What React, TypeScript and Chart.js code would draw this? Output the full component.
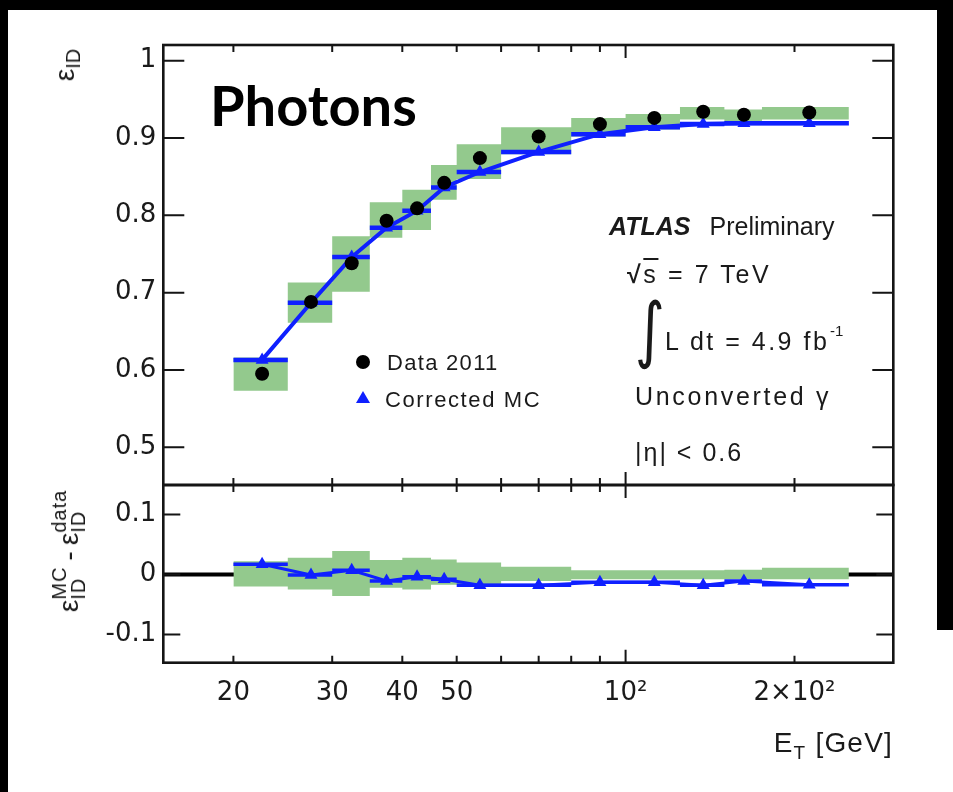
import React, { useEffect, useRef } from 'react';
import { Chart, registerables } from 'chart.js';

Chart.register(...registerables);

// ---------------- data ----------------
const binEdges = [20, 25, 30, 35, 40, 45, 50, 60, 80, 100, 125, 150, 175, 250];
const binCenters = [22.5, 27.5, 32.5, 37.5, 42.5, 47.5, 55, 70, 90, 112.5, 137.5, 162.5, 212.5];

const dataEff = [0.595, 0.688, 0.738, 0.793, 0.809, 0.842, 0.874, 0.902, 0.918, 0.926, 0.934, 0.930, 0.933];
const mcEff = [0.613, 0.687, 0.746, 0.784, 0.806, 0.836, 0.856, 0.882, 0.905, 0.914, 0.918, 0.919, 0.919];
const effBandUp = [0.616, 0.713, 0.773, 0.817, 0.833, 0.865, 0.892, 0.914, 0.926, 0.931, 0.940, 0.937, 0.940];
const effBandDown = [0.573, 0.661, 0.701, 0.771, 0.781, 0.820, 0.847, 0.879, 0.902, 0.911, 0.924, 0.921, 0.924];

const diffMC = [0.017, -0.001, 0.007, -0.011, -0.004, -0.008, -0.018, -0.018, -0.013, -0.013, -0.018, -0.011, -0.017];
const diffBandUp = [0.022, 0.028, 0.039, 0.024, 0.028, 0.025, 0.020, 0.013, 0.007, 0.007, 0.007, 0.008, 0.011];
const diffBandDown = [-0.020, -0.025, -0.036, -0.022, -0.025, -0.017, -0.017, -0.011, -0.008, -0.008, -0.008, -0.008, -0.008];

const xTickValues = [20, 30, 40, 50, 60, 70, 80, 90, 100, 200];
const xTickLabels = ['20', '30', '40', '50', '', '', '', '', '10²', '2×10²'];
const xMajorTicks = [100];
const yTicksTop = [0.5, 0.6, 0.7, 0.8, 0.9, 1];
const yTickLabelsTop = ['0.5', '0.6', '0.7', '0.8', '0.9', '1'];
const yTicksBottom = [-0.1, 0, 0.1];
const yTickLabelsBottom = ['-0.1', '0', '0.1'];

const X_MIN = 15;
const X_MAX = 300;
const TOP_MIN = 0.4512;
const TOP_MAX = 1.0203;
const BOT_MIN = -0.147;
const BOT_MAX = 0.149;

// ---------------- styles ----------------
const GREEN = 'rgb(147, 201, 141)';
const BLUE = 'rgb(15, 32, 255)';
const TICK_FONT = { family: '"DejaVu Sans", sans-serif', size: 26 };
const LIB = '"Liberation Sans", Arial, sans-serif';

function stepPoints(vals: number[]) {
  const pts: { x: number; y: number }[] = [];
  vals.forEach((v, i) => {
    pts.push({ x: binEdges[i], y: v });
    pts.push({ x: binEdges[i + 1], y: v });
  });
  return pts;
}

function barPoints(vals: number[]) {
  const pts: { x: number; y: number | null }[] = [];
  vals.forEach((v, i) => {
    pts.push({ x: binEdges[i], y: v });
    pts.push({ x: binEdges[i + 1], y: v });
    pts.push({ x: binEdges[i + 1], y: null });
  });
  return pts;
}

function centerPoints(vals: number[]) {
  return vals.map((v, i) => ({ x: binCenters[i], y: v }));
}

const framePlugin = {
  id: 'frame',
  afterDraw(chart: any, _args: any, opts: any) {
    const { ctx, chartArea: a, scales } = chart;
    ctx.save();
    ctx.strokeStyle = '#151515';
    ctx.lineWidth = 2;
    const xs = scales.x;
    xs.ticks.forEach((t: any) => {
      const px = xs.getPixelForValue(t.value);
      const len = xMajorTicks.includes(t.value) ? opts.xMajor : opts.xMinor;
      ctx.beginPath();
      ctx.moveTo(px, a.top);
      ctx.lineTo(px, a.top + len);
      ctx.moveTo(px, a.bottom);
      ctx.lineTo(px, a.bottom - len);
      ctx.stroke();
    });
    const ys = scales.y;
    ys.ticks.forEach((t: any) => {
      const py = ys.getPixelForValue(t.value);
      ctx.beginPath();
      ctx.moveTo(a.left, py);
      ctx.lineTo(a.left + opts.yLen, py);
      ctx.moveTo(a.right, py);
      ctx.lineTo(a.right - opts.yLen, py);
      ctx.stroke();
    });
    ctx.lineWidth = 2.6;
    ctx.strokeRect(a.left, a.top, a.right - a.left, a.bottom - a.top);
    ctx.restore();
  },
};

function xScale(showLabels: boolean) {
  return {
    type: 'logarithmic',
    min: X_MIN,
    max: X_MAX,
    display: showLabels,
    afterBuildTicks: (s: any) => {
      s.ticks = xTickValues.map((v) => ({ value: v }));
    },
    afterFit: (s: any) => {
      if (showLabels) s.height = 129.3;
    },
    grid: { display: false, drawTicks: false },
    border: { display: false },
    ticks: {
      autoSkip: false,
      maxRotation: 0,
      minRotation: 0,
      padding: 15,
      font: TICK_FONT,
      color: '#1a1a1a',
      callback: (_v: any, i: number) => xTickLabels[i],
    },
  };
}

function yScale(min: number, max: number, ticks: number[], labels: string[]) {
  return {
    type: 'linear',
    min,
    max,
    afterBuildTicks: (s: any) => {
      s.ticks = ticks.map((v) => ({ value: v }));
    },
    afterFit: (s: any) => {
      s.width = 163.3;
    },
    grid: { display: false, drawTicks: false },
    border: { display: false },
    ticks: {
      padding: 7,
      font: TICK_FONT,
      color: '#1a1a1a',
      callback: (_v: any, i: number) => labels[i],
    },
  };
}

export default function App() {
  const topRef = useRef<HTMLCanvasElement>(null);
  const botRef = useRef<HTMLCanvasElement>(null);

  useEffect(() => {
    const top = new Chart(topRef.current as HTMLCanvasElement, {
      type: 'line',
      data: {
        datasets: [
          {
            label: 'Data 2011',
            data: centerPoints(dataEff),
            showLine: false,
            pointRadius: 7,
            pointBackgroundColor: '#000',
            pointBorderWidth: 0,
          },
          {
            label: 'Corrected MC',
            data: centerPoints(mcEff),
            borderColor: BLUE,
            borderWidth: 4,
            pointStyle: 'triangle',
            pointRadius: 7.5,
            pointBackgroundColor: BLUE,
            pointBorderWidth: 0,
          },
          {
            label: 'MC bins',
            data: barPoints(mcEff),
            borderColor: BLUE,
            borderWidth: 4.5,
            pointRadius: 0,
            spanGaps: false,
          },
          {
            label: 'band low',
            data: stepPoints(effBandDown),
            borderColor: 'rgba(0,0,0,0)',
            pointRadius: 0,
            backgroundColor: GREEN,
            fill: { target: 4 },
          },
          {
            label: 'band high',
            data: stepPoints(effBandUp),
            borderColor: 'rgba(0,0,0,0)',
            pointRadius: 0,
            fill: false,
          },
        ],
      } as any,
      options: {
        responsive: false,
        animation: false,
        layout: { padding: { top: 45, right: 59.7, bottom: 307, left: 0 } },
        scales: {
          x: xScale(false),
          y: yScale(TOP_MIN, TOP_MAX, yTicksTop, yTickLabelsTop),
        } as any,
        plugins: {
          legend: { display: false },
          tooltip: { enabled: false },
          frame: { xMinor: 7, xMajor: 13, yLen: 21 },
        } as any,
      },
      plugins: [framePlugin],
    });

    const bot = new Chart(botRef.current as HTMLCanvasElement, {
      type: 'line',
      data: {
        datasets: [
          {
            label: 'MC - data',
            data: centerPoints(diffMC),
            borderColor: BLUE,
            borderWidth: 3,
            pointStyle: 'triangle',
            pointRadius: 7.5,
            pointBackgroundColor: BLUE,
            pointBorderWidth: 0,
          },
          {
            label: 'MC - data bins',
            data: barPoints(diffMC),
            borderColor: BLUE,
            borderWidth: 3.5,
            pointRadius: 0,
            spanGaps: false,
          },
          {
            label: 'band low',
            data: stepPoints(diffBandDown),
            borderColor: 'rgba(0,0,0,0)',
            pointRadius: 0,
            backgroundColor: GREEN,
            fill: { target: 3 },
          },
          {
            label: 'band high',
            data: stepPoints(diffBandUp),
            borderColor: 'rgba(0,0,0,0)',
            pointRadius: 0,
            fill: false,
          },
          {
            label: 'zero',
            data: [
              { x: X_MIN, y: 0 },
              { x: X_MAX, y: 0 },
            ],
            borderColor: '#000',
            borderWidth: 4,
            pointRadius: 0,
          },
        ],
      } as any,
      options: {
        responsive: false,
        animation: false,
        layout: { padding: { top: 485, right: 59.7, bottom: 0, left: 0 } },
        scales: {
          x: xScale(true),
          y: yScale(BOT_MIN, BOT_MAX, yTicksBottom, yTickLabelsBottom),
        } as any,
        plugins: {
          legend: { display: false },
          tooltip: { enabled: false },
          frame: { xMinor: 7, xMajor: 13, yLen: 17 },
        } as any,
      },
      plugins: [framePlugin],
    });

    return () => {
      top.destroy();
      bot.destroy();
    };
  }, []);

  const abs = (left: number, top: number, extra: any = {}) => ({
    position: 'absolute' as const,
    left,
    top,
    lineHeight: 1,
    whiteSpace: 'nowrap' as const,
    color: '#1a1a1a',
    fontFamily: LIB,
    ...extra,
  });

  return (
    <div style={{ position: 'fixed', left: 0, top: 0, width: 953, height: 792, background: '#fff', overflow: 'hidden' }}>
      {/* black frame of the picture */}
      <div style={{ position: 'absolute', left: 0, top: 0, width: 953, height: 10, background: '#000' }} />
      <div style={{ position: 'absolute', left: 0, top: 0, width: 8, height: 792, background: '#000' }} />
      <div style={{ position: 'absolute', left: 937, top: 0, width: 16, height: 630, background: '#000' }} />
      <canvas ref={topRef} width={953} height={792} style={{ position: 'absolute', left: 0, top: 0 }} />
      <canvas ref={botRef} width={953} height={792} style={{ position: 'absolute', left: 0, top: 0 }} />

      {/* title */}
      <div style={abs(210, 77, { fontFamily: 'Lato, sans-serif', fontWeight: 700, fontSize: 56, color: '#000' })}>Photons</div>

      {/* legend */}
      <div style={{ position: 'absolute', left: 356, top: 355, width: 14, height: 14, borderRadius: '50%', background: '#000' }} />
      <div style={abs(387, 352, { fontSize: 22, letterSpacing: 1.3 })}>Data 2011</div>
      <div style={{ position: 'absolute', left: 356, top: 391, width: 0, height: 0, borderLeft: '7px solid transparent', borderRight: '7px solid transparent', borderBottom: `12px solid ${BLUE}` }} />
      <div style={abs(385, 389, { fontSize: 22, letterSpacing: 1.6 })}>Corrected MC</div>

      {/* ATLAS block */}
      <div style={abs(609, 214, { fontSize: 25 })}>
        <span style={{ fontWeight: 700, fontStyle: 'italic' }}>ATLAS</span>
        <span style={{ marginLeft: 19 }}>Preliminary</span>
      </div>
      <div style={abs(627, 262, { fontSize: 25, letterSpacing: 2.6 })}>
        <span style={{ fontWeight: 700 }}>√</span>
        <span style={{ textDecoration: 'overline' }}>s</span> = 7 TeV
      </div>
      <div style={abs(631, 293, { fontFamily: '"DejaVu Sans", sans-serif', fontSize: 72, transform: 'scaleX(0.8)' })}>∫</div>
      <div style={abs(665, 329, { fontSize: 25, letterSpacing: 2.5 })}>L dt = 4.9 fb</div>
      <div style={abs(830, 323, { fontSize: 15 })}>-1</div>
      <div style={abs(635, 384, { fontSize: 25, letterSpacing: 2.7 })}>Unconverted γ</div>
      <div style={abs(635, 440, { fontSize: 25, letterSpacing: 2 })}>|η| &lt; 0.6</div>

      {/* axis titles */}
      <div
        style={{
          position: 'absolute',
          left: 67,
          top: 65,
          transform: 'translate(-50%,-50%) rotate(-90deg)',
          fontFamily: LIB,
          fontSize: 28,
          lineHeight: 1,
          whiteSpace: 'nowrap',
          color: '#1a1a1a',
        }}
      >
        ε<span style={{ fontSize: 20, verticalAlign: '-0.3em' }}>ID</span>
      </div>
      <div
        style={{
          position: 'absolute',
          left: 69,
          top: 551,
          transform: 'translate(-50%,-50%) rotate(-90deg)',
          fontFamily: LIB,
          fontSize: 28,
          lineHeight: 1,
          whiteSpace: 'nowrap',
          color: '#1a1a1a',
          display: 'flex',
          alignItems: 'center',
        }}
      >
        <span>ε</span>
        <span style={{ display: 'inline-flex', flexDirection: 'column', fontSize: 20, lineHeight: 0.95, letterSpacing: 1 }}>
          <span>MC</span>
          <span>ID</span>
        </span>
        <span style={{ margin: '0 6px' }}>-</span>
        <span>ε</span>
        <span style={{ display: 'inline-flex', flexDirection: 'column', fontSize: 20, lineHeight: 0.95, letterSpacing: 1 }}>
          <span>data</span>
          <span>ID</span>
        </span>
      </div>
      <div style={abs(0, 729, { width: 893, textAlign: 'right', fontSize: 28, letterSpacing: 1.2 })}>
        E<span style={{ fontSize: 19, verticalAlign: '-0.35em' }}>T</span> [GeV]
      </div>
    </div>
  );
}
